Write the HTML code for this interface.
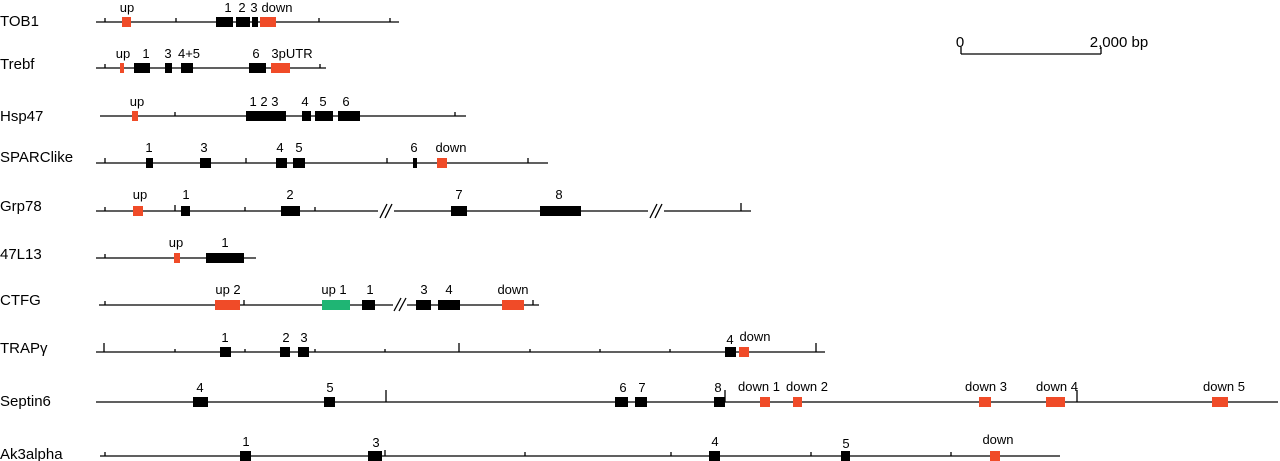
<!DOCTYPE html>
<html><head><meta charset="utf-8"><style>
html,body{margin:0;padding:0;background:#fff;}
svg{display:block;font-family:"Liberation Sans",Arial,sans-serif;}
.n{font-size:15px;fill:#000;}
.l{font-size:13px;fill:#000;text-anchor:middle;}
line{stroke:#000;stroke-width:1.3;}
rect{transform:translateY(-1px)}
.k{fill:#000}.r{fill:#f04b28}.g{fill:#1fb574}
</style></head><body>
<svg width="1280" height="461" viewBox="0 0 1280 461">
<!-- scale -->
<text x="960" y="47" class="l" style="font-size:15px">0</text>
<text x="1119" y="47" class="l" style="font-size:15px">2,000 bp</text>
<line x1="961" y1="54" x2="1101" y2="54"/><line x1="961" y1="54" x2="961" y2="47"/><line x1="1101" y1="54" x2="1101" y2="47"/>

<!-- TOB1 -->
<text x="0" y="26" class="n">TOB1</text>
<line x1="96" y1="22" x2="399" y2="22"/>
<g stroke="#000"><line x1="105" y1="22" x2="105" y2="18"/><line x1="176" y1="22" x2="176" y2="18"/><line x1="248" y1="22" x2="248" y2="18"/><line x1="319" y1="22" x2="319" y2="18"/><line x1="390" y1="22" x2="390" y2="18"/></g>
<rect class="r" x="122" y="18" width="9" height="10"/><rect class="k" x="216" y="18" width="17" height="10"/><rect class="k" x="236" y="18" width="14" height="10"/><rect class="k" x="252" y="18" width="6" height="10"/><rect class="r" x="260" y="18" width="16" height="10"/>
<text x="127" y="12" class="l">up</text><text x="228" y="12" class="l">1</text><text x="242" y="12" class="l">2</text><text x="254" y="12" class="l">3</text><text x="277" y="12" class="l">down</text>

<!-- Trebf -->
<text x="0" y="69" class="n">Trebf</text>
<line x1="96" y1="68" x2="326" y2="68"/>
<line x1="105" y1="68" x2="105" y2="64"/><line x1="320" y1="68" x2="320" y2="64"/>
<rect class="r" x="120" y="64" width="4" height="10"/><rect class="k" x="134" y="64" width="16" height="10"/><rect class="k" x="165" y="64" width="7" height="10"/><rect class="k" x="181" y="64" width="12" height="10"/><rect class="k" x="249" y="64" width="17" height="10"/><rect class="r" x="271" y="64" width="19" height="10"/>
<text x="123" y="58" class="l">up</text><text x="146" y="58" class="l">1</text><text x="168" y="58" class="l">3</text><text x="189" y="58" class="l">4+5</text><text x="256" y="58" class="l">6</text><text x="292" y="58" class="l">3pUTR</text>

<!-- Hsp47 -->
<text x="0" y="121" class="n">Hsp47</text>
<line x1="100" y1="116" x2="466" y2="116"/>
<line x1="175" y1="116" x2="175" y2="112"/><line x1="455" y1="116" x2="455" y2="112"/>
<rect class="r" x="132" y="112" width="6" height="10"/><rect class="k" x="246" y="112" width="40" height="10"/><rect class="k" x="302" y="112" width="9" height="10"/><rect class="k" x="315" y="112" width="18" height="10"/><rect class="k" x="338" y="112" width="22" height="10"/>
<text x="137" y="106" class="l">up</text><text x="264" y="106" class="l">1 2 3</text><text x="305" y="106" class="l">4</text><text x="323" y="106" class="l">5</text><text x="346" y="106" class="l">6</text>

<!-- SPARClike -->
<text x="0" y="162" class="n">SPARClike</text>
<line x1="96" y1="163" x2="548" y2="163"/>
<line x1="105" y1="163" x2="105" y2="158"/><line x1="246" y1="163" x2="246" y2="158"/><line x1="387" y1="163" x2="387" y2="158"/><line x1="528" y1="163" x2="528" y2="158"/>
<rect class="k" x="146" y="159" width="7" height="10"/><rect class="k" x="200" y="159" width="11" height="10"/><rect class="k" x="276" y="159" width="11" height="10"/><rect class="k" x="293" y="159" width="12" height="10"/><rect class="k" x="413" y="159" width="4" height="10"/><rect class="r" x="437" y="159" width="10" height="10"/>
<text x="149" y="152" class="l">1</text><text x="204" y="152" class="l">3</text><text x="280" y="152" class="l">4</text><text x="299" y="152" class="l">5</text><text x="414" y="152" class="l">6</text><text x="451" y="152" class="l">down</text>

<!-- Grp78 -->
<text x="0" y="211" class="n">Grp78</text>
<line x1="96" y1="211" x2="751" y2="211"/>
<line x1="105" y1="211" x2="105" y2="207"/><line x1="175" y1="211" x2="175" y2="205"/><line x1="245" y1="211" x2="245" y2="207"/><line x1="315" y1="211" x2="315" y2="207"/><line x1="741" y1="211" x2="741" y2="203"/>
<rect x="378" y="205" width="16" height="12" fill="#fff" style="transform:none"/><line x1="380" y1="218" x2="387" y2="204"/><line x1="385" y1="218" x2="392" y2="204"/>
<rect x="648" y="205" width="16" height="12" fill="#fff" style="transform:none"/><line x1="650" y1="218" x2="657" y2="204"/><line x1="655" y1="218" x2="662" y2="204"/>
<rect class="r" x="133" y="207" width="10" height="10"/><rect class="k" x="181" y="207" width="9" height="10"/><rect class="k" x="281" y="207" width="19" height="10"/><rect class="k" x="451" y="207" width="16" height="10"/><rect class="k" x="540" y="207" width="41" height="10"/>
<text x="140" y="199" class="l">up</text><text x="186" y="199" class="l">1</text><text x="290" y="199" class="l">2</text><text x="459" y="199" class="l">7</text><text x="559" y="199" class="l">8</text>

<!-- 47L13 -->
<text x="0" y="259" class="n">47L13</text>
<line x1="96" y1="258" x2="256" y2="258"/>
<line x1="105" y1="258" x2="105" y2="254"/><line x1="243" y1="258" x2="243" y2="253"/>
<rect class="r" x="174" y="254" width="6" height="10"/><rect class="k" x="206" y="254" width="38" height="10"/>
<text x="176" y="247" class="l">up</text><text x="225" y="247" class="l">1</text>

<!-- CTFG -->
<text x="0" y="305" class="n">CTFG</text>
<line x1="99" y1="305" x2="539" y2="305"/>
<line x1="105" y1="305" x2="105" y2="301"/><line x1="244" y1="305" x2="244" y2="300"/><line x1="533" y1="305" x2="533" y2="300"/>
<rect x="393" y="299" width="14" height="12" fill="#fff" style="transform:none"/><line x1="394" y1="311" x2="401" y2="298"/><line x1="399" y1="311" x2="406" y2="298"/>
<rect class="r" x="215" y="301" width="25" height="10"/><rect class="g" x="322" y="301" width="28" height="10"/><rect class="k" x="362" y="301" width="13" height="10"/><rect class="k" x="416" y="301" width="15" height="10"/><rect class="k" x="438" y="301" width="22" height="10"/><rect class="r" x="502" y="301" width="22" height="10"/>
<text x="228" y="294" class="l">up 2</text><text x="334" y="294" class="l">up 1</text><text x="370" y="294" class="l">1</text><text x="424" y="294" class="l">3</text><text x="449" y="294" class="l">4</text><text x="513" y="294" class="l">down</text>

<!-- TRAP -->
<text x="0" y="353" class="n">TRAPγ</text>
<line x1="96" y1="352" x2="825" y2="352"/>
<g><line x1="104" y1="352" x2="104" y2="343"/><line x1="459" y1="352" x2="459" y2="343"/><line x1="816" y1="352" x2="816" y2="343"/>
<line x1="175" y1="352" x2="175" y2="349"/><line x1="245" y1="352" x2="245" y2="349"/><line x1="315" y1="352" x2="315" y2="349"/><line x1="385" y1="352" x2="385" y2="349"/><line x1="530" y1="352" x2="530" y2="349"/><line x1="600" y1="352" x2="600" y2="349"/><line x1="670" y1="352" x2="670" y2="349"/><line x1="740" y1="352" x2="740" y2="349"/></g>
<rect class="k" x="220" y="348" width="11" height="10"/><rect class="k" x="280" y="348" width="10" height="10"/><rect class="k" x="298" y="348" width="11" height="10"/><rect class="k" x="725" y="348" width="11" height="10"/><rect class="r" x="739" y="348" width="10" height="10"/>
<text x="225" y="342" class="l">1</text><text x="286" y="342" class="l">2</text><text x="304" y="342" class="l">3</text><text x="730" y="344" class="l">4</text><text x="755" y="341" class="l">down</text>

<!-- Septin6 -->
<text x="0" y="406" class="n">Septin6</text>
<line x1="96" y1="402" x2="1278" y2="402"/>
<line x1="386" y1="402" x2="386" y2="390"/><line x1="725" y1="402" x2="725" y2="390"/><line x1="1077" y1="402" x2="1077" y2="390"/>
<rect class="k" x="193" y="398" width="15" height="10"/><rect class="k" x="324" y="398" width="11" height="10"/><rect class="k" x="615" y="398" width="13" height="10"/><rect class="k" x="635" y="398" width="12" height="10"/><rect class="k" x="714" y="398" width="11" height="10"/>
<rect class="r" x="760" y="398" width="10" height="10"/><rect class="r" x="793" y="398" width="9" height="10"/><rect class="r" x="979" y="398" width="12" height="10"/><rect class="r" x="1046" y="398" width="19" height="10"/><rect class="r" x="1212" y="398" width="16" height="10"/>
<text x="200" y="392" class="l">4</text><text x="330" y="392" class="l">5</text><text x="623" y="392" class="l">6</text><text x="642" y="392" class="l">7</text><text x="718" y="392" class="l">8</text><text x="759" y="391" class="l">down 1</text><text x="807" y="391" class="l">down 2</text><text x="986" y="391" class="l">down 3</text><text x="1057" y="391" class="l">down 4</text><text x="1224" y="391" class="l">down 5</text>

<!-- Ak3alpha -->
<text x="0" y="459" class="n">Ak3alpha</text>
<line x1="100" y1="456" x2="1060" y2="456"/>
<line x1="105" y1="456" x2="105" y2="452"/><line x1="245" y1="456" x2="245" y2="452"/><line x1="385" y1="456" x2="385" y2="450"/><line x1="525" y1="456" x2="525" y2="452"/><line x1="671" y1="456" x2="671" y2="452"/><line x1="811" y1="456" x2="811" y2="452"/><line x1="951" y1="456" x2="951" y2="452"/>
<rect class="k" x="240" y="452" width="11" height="10"/><rect class="k" x="368" y="452" width="14" height="10"/><rect class="k" x="709" y="452" width="11" height="10"/><rect class="k" x="841" y="452" width="9" height="10"/><rect class="r" x="990" y="452" width="10" height="10"/>
<text x="246" y="446" class="l">1</text><text x="376" y="447" class="l">3</text><text x="715" y="446" class="l">4</text><text x="846" y="448" class="l">5</text><text x="998" y="444" class="l">down</text>
</svg>
</body></html>
